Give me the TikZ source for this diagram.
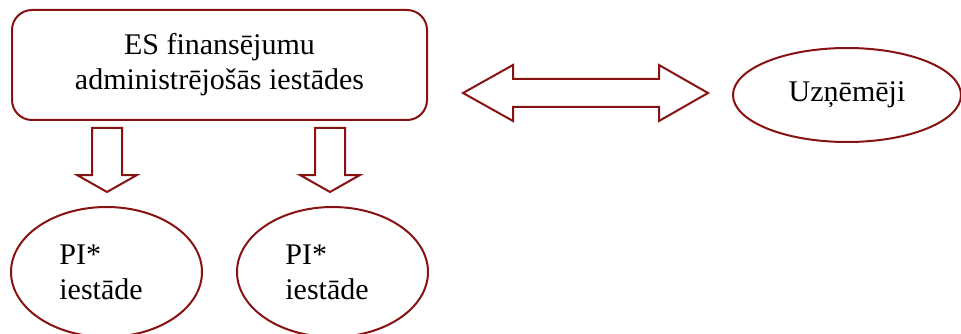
\documentclass[tikz,border=0pt]{standalone}
\usepackage{fontspec}
\setmainfont{Liberation Serif}
\usetikzlibrary{shapes.geometric}
\definecolor{darkred}{RGB}{135,18,18}
\tikzstyle{every picture}=[x=1pt,y=-1pt]

\begin{document}
\begin{tikzpicture}[line width=2pt,darkred,
		font=\fontsize{30}{35}\selectfont]
		\tikzstyle{box}=[draw=darkred,fill=white,rounded corners=20pt,text=black,
			align=center,minimum width=415pt,minimum height=110pt]
		\tikzstyle{oval}=[ellipse,draw=darkred,fill=white,text=black,inner sep=0pt]
		\tikzstyle{blockarrow}=[draw=darkred,fill=white,line join=miter]
		\useasboundingbox (0,0) rectangle (961,334);
		
		\node[box]    (adm)   at (219.5,65)   {ES finansējumu \\ administrējošās iestādes};
		\node[oval,minimum width=228pt,minimum height=94pt]  (uzn)  at (847,95)  {Uzņēmēji};
		
		\node[oval,minimum width=191pt,minimum height=130pt,align=left]  (pi1)  at (106.5,272)  {PI*\\iestāde\hspace*{11pt}};
		\node[oval,minimum width=191pt,minimum height=130pt,align=left]  (pi2)  at (332.5,272)  {PI*\\iestāde\hspace*{11pt}};
		
		% arrows down to the PI bodies
		\foreach \cx in {107,330}
		\draw[blockarrow] (\cx-15,128) -- (\cx-15,175) -- (\cx-30,175) -- (\cx,192)
			-- (\cx+30,175) -- (\cx+15,175) -- (\cx+15,128) -- cycle;
		
		% two-way arrow to the companies
		\draw[blockarrow] (463,93) -- (513,65) -- (513,79) -- (659,79) -- (659,65)
			-- (708,93) -- (659,121) -- (659,107) -- (513,107) -- (513,121) -- cycle;
		
\end{tikzpicture}
\end{document}
